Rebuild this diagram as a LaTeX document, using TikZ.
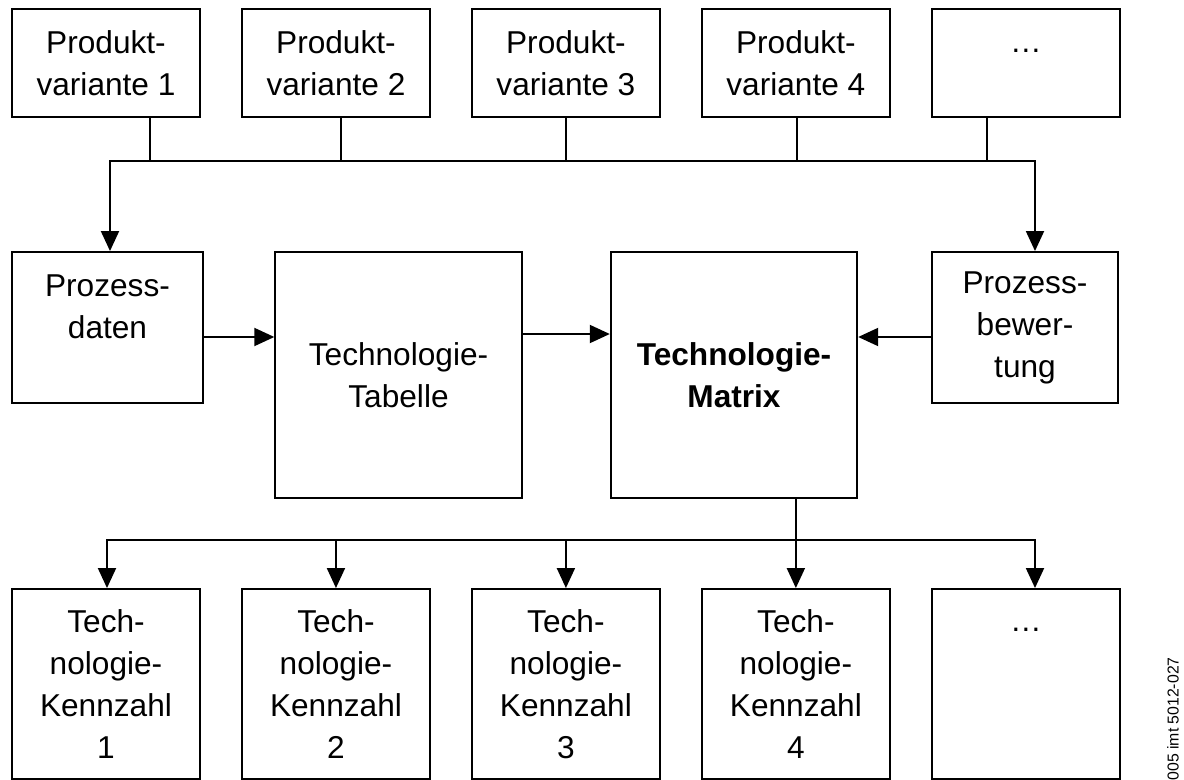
\documentclass[tikz,border=0pt]{standalone}
\usepackage{fontspec}
\setmainfont{Liberation Sans}
\usetikzlibrary{positioning,arrows.meta}

\begin{document}
\begin{tikzpicture}[x=0.02cm, y=-0.02cm, node distance=4.6cm]
    \tikzset{
        mybox/.style = {rectangle, line width=1.1pt, align=center, inner sep=0pt, draw=black, fill=white, font=\fontsize{18}{23.9}\selectfont},
        varbox/.style = {mybox, minimum width=3.76cm, minimum height=2.16cm},
        procbox/.style = {mybox, minimum height=3.02cm},
        bigbox/.style = {mybox, minimum width=4.93cm, minimum height=4.92cm},
        kzbox/.style = {mybox, minimum width=3.76cm, minimum height=3.8cm},
        line/.style = {line width=1.1pt},
        arrow/.style = {line width=1.1pt, -{Triangle[length=0.4cm, width=0.36cm]}},
    }
    \useasboundingbox (0,0) rectangle (1184,780);

    \node (pv1) [varbox] at (106,63) {Produkt-\\variante 1};
    \node (pv2) [varbox, right of=pv1] {Produkt-\\variante 2};
    \node (pv3) [varbox, right of=pv2] {Produkt-\\variante 3};
    \node (pv4) [varbox, right of=pv3] {Produkt-\\variante 4};
    \node (pv5) [varbox, right of=pv4] {\vphantom{P}\ldots\\~};

    \node (pd) [procbox, minimum width=3.82cm] at (107.5,327.5) {Prozess-\\daten\\~};
    \node (tab) [bigbox] at (398.5,375) {Technologie-\\Tabelle};
    \node (mat) [bigbox, font=\fontsize{18}{23.9}\selectfont\bfseries] at (734,375) {Technologie-\\Matrix};
    \node (pb) [procbox, minimum width=3.72cm] at (1025,327.5) {Prozess-\\bewer-\\tung};

    \node (tk1) [kzbox] at (106,684) {Tech-\\nologie-\\Kennzahl\\1};
    \node (tk2) [kzbox, right of=tk1] {Tech-\\nologie-\\Kennzahl\\2};
    \node (tk3) [kzbox, right of=tk2] {Tech-\\nologie-\\Kennzahl\\3};
    \node (tk4) [kzbox, right of=tk3] {Tech-\\nologie-\\Kennzahl\\4};
    \node (tk5) [kzbox, right of=tk4] {\vphantom{T}\ldots\\~\\~\\~};

    \node (code) [rotate=90, anchor=east, inner sep=0pt, font=\fontsize{9}{10}\selectfont] at (1173,657) {005 imt 5012-027};

    % collecting bus below the variants
    \coordinate (bus1w) at (110,161);
    \coordinate (bus1e) at (1035,161);
    \coordinate (b1) at (150,161);
    \coordinate (b2) at (341,161);
    \coordinate (b3) at (566,161);
    \coordinate (b4) at (797,161);
    \coordinate (b5) at (987,161);
    \draw [line] (pv1.south -| b1) -- (b1);
    \draw [line] (pv2.south -| b2) -- (b2);
    \draw [line] (pv3.south -| b3) -- (b3);
    \draw [line] (pv4.south -| b4) -- (b4);
    \draw [line] (pv5.south -| b5) -- (b5);
    \draw [arrow] (bus1e) -- (bus1w) -- (pd.north -| bus1w);
    \draw [arrow] (bus1w) -- (bus1e) -- (pb.north -| bus1e);

    \draw [arrow] ([yshift=-0.19cm]pd.east) -- ([yshift=-0.19cm]pd.east -| tab.west);
    \draw [arrow] ([yshift=0.82cm]tab.east) -- ([yshift=0.82cm]mat.west);
    \draw [arrow] ([yshift=-0.19cm]pb.west) -- ([yshift=-0.19cm]pb.west -| mat.east);

    % distribution bus to the key figures
    \coordinate (bus2w) at (107,540);
    \coordinate (bus2e) at (1035,540);
    \draw [line] (mat.south -| tk4.north) -- (bus2w -| tk4.north);
    \draw [arrow] (bus2e) -- (bus2w) -- (tk1.north -| bus2w);
    \draw [arrow] (bus2w) -- (bus2e) -- (tk5.north -| bus2e);
    \draw [arrow] (bus2w -| tk2.north) -- (tk2.north);
    \draw [arrow] (bus2w -| tk3.north) -- (tk3.north);
    \draw [arrow] (bus2w -| tk4.north) -- (tk4.north);
\end{tikzpicture}
\end{document}
